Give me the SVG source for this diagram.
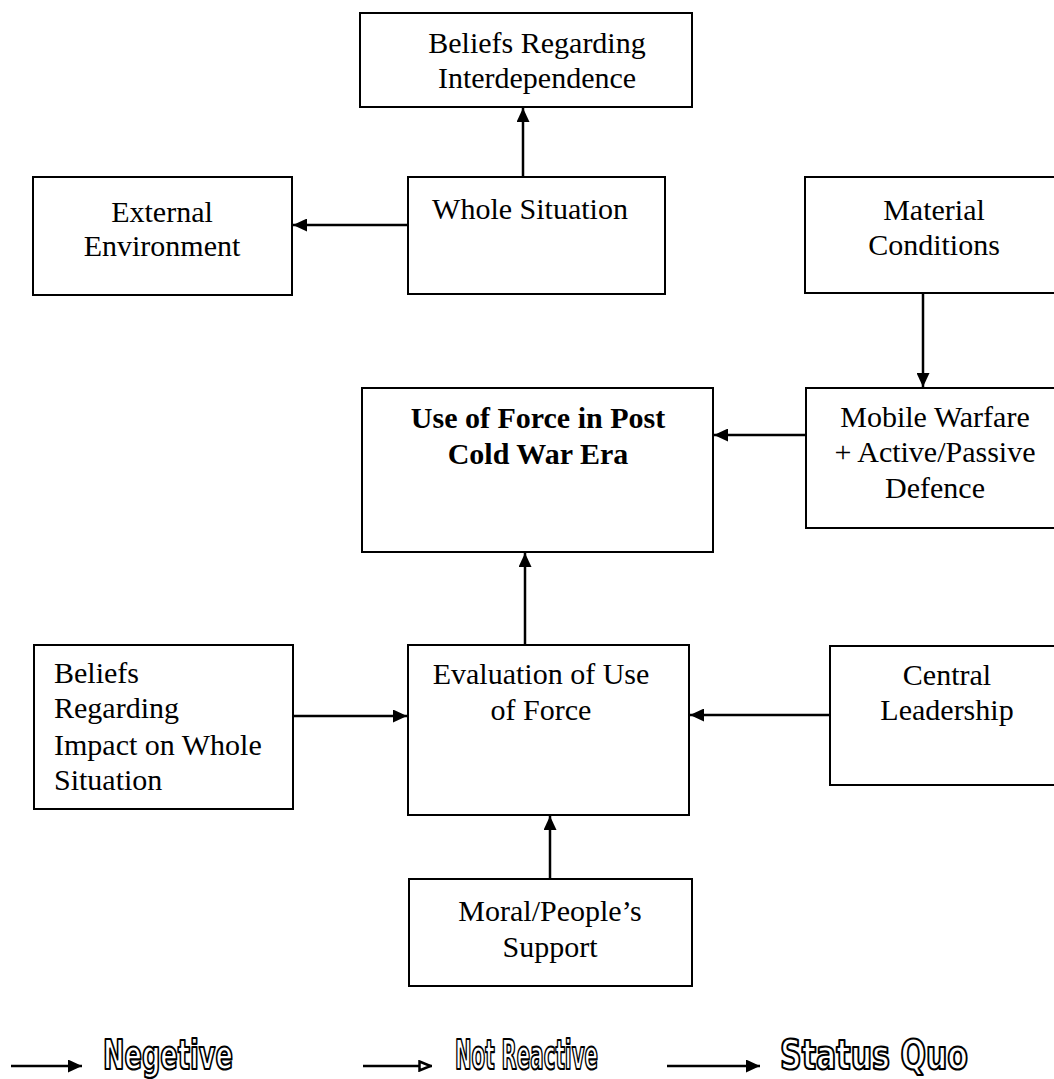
<svg xmlns="http://www.w3.org/2000/svg" width="1054" height="1079" viewBox="0 0 1054 1079">
<style>
.box{fill:#fff;stroke:#000;stroke-width:2}
.t{font-family:"Liberation Serif","Times New Roman",serif;font-size:30px;fill:#000;text-anchor:middle}
.tl{text-anchor:start}
.b{font-weight:bold}
.c{stroke:#000;stroke-width:2.5;fill:none}
.lg{font-family:"DejaVu Sans Condensed","DejaVu Sans",sans-serif;font-weight:bold;font-size:40px;fill:#fff;stroke:#000;stroke-width:2.2;stroke-linejoin:round}
</style>
<defs>
<marker id="ah" viewBox="0 0 14 13" refX="14" refY="6.5" markerWidth="14" markerHeight="13" markerUnits="userSpaceOnUse" orient="auto">
<path d="M0,0 L14,6.5 L0,13 Z" fill="#000"/>
</marker>
<marker id="ao" viewBox="0 0 14 12" refX="14" refY="6" markerWidth="14" markerHeight="12" markerUnits="userSpaceOnUse" orient="auto">
<path d="M1.5,1.5 L12.5,6 L1.5,10.5 Z" fill="#fff" stroke="#000" stroke-width="2.5"/>
</marker>
</defs>
<rect width="1054" height="1079" fill="#fff"/>

<g id="connectors">
<line class="c" x1="523" y1="177" x2="523" y2="108" marker-end="url(#ah)"/>
<line class="c" x1="408" y1="225" x2="293" y2="225" marker-end="url(#ah)"/>
<line class="c" x1="923" y1="293" x2="923" y2="387" marker-end="url(#ah)"/>
<line class="c" x1="806" y1="435" x2="714" y2="435" marker-end="url(#ah)"/>
<line class="c" x1="525" y1="645" x2="525" y2="553" marker-end="url(#ah)"/>
<line class="c" x1="293" y1="716" x2="407" y2="716" marker-end="url(#ah)"/>
<line class="c" x1="830" y1="715" x2="690" y2="715" marker-end="url(#ah)"/>
<line class="c" x1="550" y1="879" x2="550" y2="816" marker-end="url(#ah)"/>
</g>

<g id="n-interdependence">
<rect class="box" x="360" y="13" width="332" height="94"/>
<text class="t" x="537" y="53">Beliefs Regarding</text>
<text class="t" x="537" y="88">Interdependence</text>
</g>
<g id="n-external">
<rect class="box" x="33" y="177" width="259" height="118"/>
<text class="t" x="162" y="222">External</text>
<text class="t" x="162" y="256">Environment</text>
</g>
<g id="n-whole">
<rect class="box" x="408" y="177" width="257" height="117"/>
<text class="t" x="530" y="219">Whole Situation</text>
</g>
<g id="n-material">
<rect class="box" x="805" y="177" width="260" height="116"/>
<text class="t" x="934" y="220">Material</text>
<text class="t" x="934" y="255">Conditions</text>
</g>
<g id="n-useofforce">
<rect class="box" x="362" y="388" width="351" height="164"/>
<text class="t b" x="538" y="428">Use of Force in Post</text>
<text class="t b" x="538" y="464">Cold War Era</text>
</g>
<g id="n-mobile">
<rect class="box" x="806" y="388" width="260" height="140"/>
<text class="t" x="935" y="427">Mobile Warfare</text>
<text class="t" x="935" y="462">+ Active/Passive</text>
<text class="t" x="935" y="498">Defence</text>
</g>
<g id="n-impact">
<rect class="box" x="34" y="645" width="259" height="164"/>
<text class="t tl" x="54" y="683">Beliefs</text>
<text class="t tl" x="54" y="718">Regarding</text>
<text class="t tl" x="54" y="755">Impact on Whole</text>
<text class="t tl" x="54" y="790">Situation</text>
</g>
<g id="n-evaluation">
<rect class="box" x="408" y="645" width="281" height="170"/>
<text class="t" x="541" y="684">Evaluation of Use</text>
<text class="t" x="541" y="720">of Force</text>
</g>
<g id="n-central">
<rect class="box" x="830" y="646" width="240" height="139"/>
<text class="t" x="947" y="685">Central</text>
<text class="t" x="947" y="720">Leadership</text>
</g>
<g id="n-moral">
<rect class="box" x="409" y="879" width="283" height="107"/>
<text class="t" x="550" y="921">Moral/People’s</text>
<text class="t" x="550" y="957">Support</text>
</g>

<g id="legend">
<line class="c" x1="11" y1="1066" x2="82" y2="1066" marker-end="url(#ah)"/>
<text class="lg" x="103" y="1069" textLength="130" lengthAdjust="spacingAndGlyphs">Negetive</text>
<line class="c" x1="363" y1="1066" x2="432" y2="1066" marker-end="url(#ao)"/>
<text class="lg" x="455" y="1069" textLength="143" lengthAdjust="spacingAndGlyphs">Not Reactive</text>
<line class="c" x1="667" y1="1066" x2="760" y2="1066" marker-end="url(#ah)"/>
<text class="lg" x="780" y="1069" textLength="188" lengthAdjust="spacingAndGlyphs">Status Quo</text>
</g>
</svg>
